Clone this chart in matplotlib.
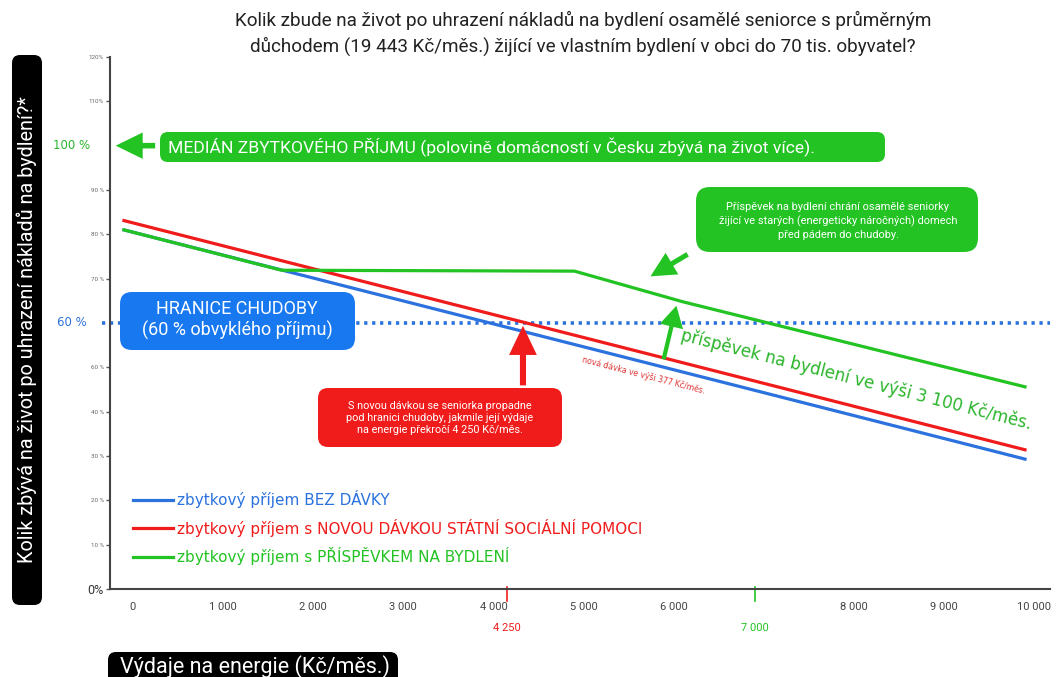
import matplotlib
matplotlib.use('Agg')
import matplotlib.pyplot as plt
from matplotlib.patches import FancyBboxPatch, FancyArrowPatch
from matplotlib.transforms import IdentityTransform, blended_transform_factory, ScaledTranslation

plt.rcParams['font.family'] = ['Roboto', 'DejaVu Sans']

# data
vydaje = [0, 10000]                     # Kč/měs. spent on energy
bez_davky = [81.0, 29.3]                # % left, no benefit
nova_davka = [83.1, 31.4]               # % left, with new state benefit
vydaje_prispevek = [0, 1750, 5000, 6200, 10000]
prispevek = [81.0, 71.9, 71.7, 64.8, 45.6]  # % left, with housing allowance

x_ticks = [0, 1000, 2000, 3000, 4000, 5000, 6000, 8000, 9000, 10000]
x_labels = ['0', '1 000', '2 000', '3 000', '4 000', '5 000', '6 000', '8 000', '9 000', '10 000']
y_ticks = [0, 10, 20, 30, 40, 50, 70, 80, 90, 110, 120]
y_labels = ['0%', '10 %', '20 %', '30 %', '40 %', '60 %', '70 %', '80 %', '90 %', '110%', '120%']

hranice = 60          # poverty line, %
median = 100          # median residual income, %
prah_davka = 4250     # energy costs where the new benefit drops below poverty line
prah_prispevek = 7000

BLUE = '#2c72de'
RED = '#f01c1c'
GREEN = '#22c322'
BOX_BLUE = '#1878f0'
TXT_GREEN = '#2bb52b'

W, H = 1058, 677
fig = plt.figure(figsize=(W / 100, H / 100), dpi=100)
ax = fig.add_axes([110 / W, 88 / H, 940 / W, 532 / H])
ax.set_xlim(-155, 10277)
ax.set_ylim(0, 120)

for s in ['top', 'right']:
    ax.spines[s].set_visible(False)
for s in ['left', 'bottom']:
    ax.spines[s].set_color('#444444')
    ax.spines[s].set_linewidth(1.5)

ax.set_yticks(y_ticks, y_labels)
ax.tick_params(axis='y', length=3, width=1, color='#555555', labelsize=4.5, labelcolor='#666666', pad=1.5)
zero = ax.get_yticklabels()[0]
zero.set_fontsize(9)
zero.set_color('#333333')

ax.set_xticks(x_ticks, x_labels)
ax.tick_params(axis='x', length=0, labelsize=8, labelcolor='#444444', pad=9)
shift = ScaledTranslation(0.09, 0, fig.dpi_scale_trans)
for lab in ax.get_xticklabels():
    lab.set_transform(lab.get_transform() + shift)

# lines
ax.plot(vydaje, bez_davky, color=BLUE, lw=2.3, label='zbytkový příjem BEZ DÁVKY', zorder=3)
ax.plot(vydaje, nova_davka, color=RED, lw=2.3,
        label='zbytkový příjem s NOVOU DÁVKOU STÁTNÍ SOCIÁLNÍ POMOCI', zorder=3)
ax.plot(vydaje_prispevek, prispevek, color=GREEN, lw=2.3,
        label='zbytkový příjem s PŘÍSPĚVKEM NA BYDLENÍ', zorder=4)

# poverty line (dotted)
tr = blended_transform_factory(ax.transAxes, ax.transData)
ax.plot([-0.009, 1.0], [hranice, hranice], transform=tr, color=BLUE, lw=2.6,
        ls=(0, (0.9, 1.3)), clip_on=False, zorder=2)

# special ticks on x axis
trx = blended_transform_factory(ax.transData, ax.transAxes)
ax.plot([prah_davka, prah_davka], [-0.022, 0.004], transform=trx, color=RED, lw=1.2, clip_on=False)
ax.plot([prah_prispevek, prah_prispevek], [-0.022, 0.004], transform=trx, color=GREEN, lw=1.2, clip_on=False)
ax.text(prah_davka, -0.073, '4 250', transform=trx, color=RED, fontsize=8, ha='center', va='center')
ax.text(prah_prispevek, -0.073, '7 000', transform=trx, color=GREEN, fontsize=8, ha='center', va='center')

# labels left of the axis
ax.text(-577, median, '100 %', color=TXT_GREEN, fontsize=8.5, family='DejaVu Sans', ha='center', va='center')
ax.text(-577, hranice, '60 %', color=BLUE, fontsize=8.5, family='DejaVu Sans', ha='center', va='center')


def arrow(tail, tip, color, scale, hl, hw, tw):
    a = FancyArrowPatch(tail, tip, arrowstyle=f'simple,head_length={hl},head_width={hw},tail_width={tw}',
                        mutation_scale=scale, color=color, lw=0, zorder=5, clip_on=False)
    ax.add_patch(a)


arrow((377, median), (-122, median), GREEN, 20, 0.97, 0.95, 0.2)
arrow((4428, 45.3), (4428, hranice), RED, 20, 1.05, 1.0, 0.22)
arrow((5982, 51.2), (6138, 64.5), GREEN, 18, 0.85, 0.95, 0.17)
arrow((6282, 75.8), (5816, 70.2), GREEN, 18, 1.0, 1.0, 0.2)

ax.text(6171, 56.2, 'příspěvek na bydlení ve výši 3 100 Kč/měs.', color=TXT_GREEN, fontsize=12,
        family='DejaVu Sans', rotation=-14.3, rotation_mode='anchor', ha='left', va='baseline')
ax.text(5083, 51.2, 'nová dávka ve výši 377 Kč/měs.', color='#e03434', fontsize=5.7,
        family='DejaVu Sans', rotation=-14.5, rotation_mode='anchor', ha='left', va='baseline')

# legend
leg = ax.legend(loc='upper left', bbox_to_anchor=(133 / W, 1 - 490 / H), bbox_transform=fig.transFigure,
                frameon=False, borderpad=0, borderaxespad=0, handlelength=2.6, handletextpad=0.3,
                labelspacing=0.7, labelcolor='linecolor', prop={'family': 'DejaVu Sans', 'size': 11})


# rounded boxes in pixel coordinates (top-left origin)
def rbox(x0, y0, x1, y1, color, r):
    p = FancyBboxPatch((x0, H - y1), x1 - x0, y1 - y0, boxstyle=f'round,pad=0,rounding_size={r}',
                       transform=IdentityTransform(), fc=color, ec='none', zorder=1)
    fig.add_artist(p)


def ptext(x, y, s, **kw):
    fig.text(x, H - y, s, transform=IdentityTransform(), **kw)


rbox(160, 132, 885, 162, GREEN, 8)
ptext(168, 147.5, 'MEDIÁN ZBYTKOVÉHO PŘÍJMU (polovině domácností v Česku zbývá na život více).',
      color='white', fontsize=12.6, ha='left', va='center')

rbox(120, 292, 355, 350, BOX_BLUE, 12)
ptext(237, 320, 'HRANICE CHUDOBY\n(60 % obvyklého příjmu)', color='white', fontsize=13,
      ha='center', va='center', linespacing=1.25)

rbox(318, 388, 562, 447, RED, 10)
ptext(440, 418, 'S novou dávkou se seniorka propadne\npod hranici chudoby, jakmile její výdaje\n'
      'na energie překročí 4 250 Kč/měs.', color='white', fontsize=7.8, ha='center', va='center',
      linespacing=1.3)

rbox(696, 187, 978, 252, GREEN, 14)
ptext(838, 221, 'Příspěvek na bydlení chrání osamělé seniorky\nžijící ve starých (energeticky náročných) domech\n'
      'před pádem do chudoby.', color='white', fontsize=7.9, ha='center', va='center', linespacing=1.4)

# axis titles in black boxes
rbox(12, 55, 42, 605, 'black', 8)
ptext(27, 330, 'Kolik zbývá na život po uhrazení nákladů na bydlení?*', color='white', fontsize=14.3,
      rotation=90, ha='center', va='center')
rbox(108, 652, 398, 690, 'black', 8)
ptext(120, 667, 'Výdaje na energie (Kč/měs.)', color='white', fontsize=15.5, ha='left', va='center')

# title
ptext(583, 33.5, 'Kolik zbude na život po uhrazení nákladů na bydlení osamělé seniorce s průměrným\n'
      'důchodem (19 443 Kč/měs.) žijící ve vlastním bydlení v obci do 70 tis. obyvatel?',
      color='#222222', fontsize=13.6, ha='center', va='center', linespacing=1.45)

fig.savefig('out.png', dpi=100)
